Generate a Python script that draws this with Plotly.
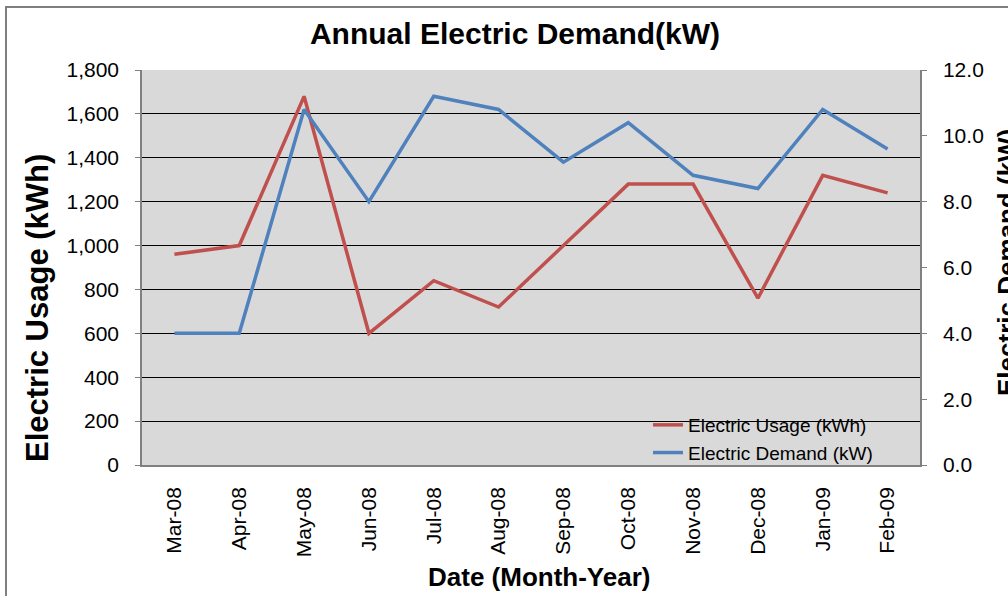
import plotly.graph_objects as go

months = ["Mar-08", "Apr-08", "May-08", "Jun-08", "Jul-08", "Aug-08",
          "Sep-08", "Oct-08", "Nov-08", "Dec-08", "Jan-09", "Feb-09"]
usage_kwh = [960, 1000, 1680, 600, 840, 720, 1000, 1280, 1280, 760, 1320, 1240]
demand_kw = [4.0, 4.0, 10.8, 8.0, 11.2, 10.8, 9.2, 10.4, 8.8, 8.4, 10.8, 9.6]
left_ticks = [0, 200, 400, 600, 800, 1000, 1200, 1400, 1600, 1800]
right_ticks = [0, 2, 4, 6, 8, 10, 12]

W, H = 1008, 596
L, R, T, B = 142, 920, 70, 465
FONT = "Arial, Liberation Sans, sans-serif"


def px(x):
    return (x - L) / (R - L)


def py(y):
    return (B - y) / (B - T)


fig = go.Figure()
fig.add_trace(go.Scatter(x=months, y=usage_kwh, mode="lines", name="Electric Usage (kWh)",
                         line=dict(color="#C0504D", width=3.5), yaxis="y"))
fig.add_trace(go.Scatter(x=months, y=demand_kw, mode="lines", name="Electric Demand (kW)",
                         line=dict(color="#4F81BD", width=3.5), yaxis="y2"))

fig.update_layout(
    width=W, height=H,
    margin=dict(l=L, r=W - R, t=T, b=H - B, autoexpand=False),
    paper_bgcolor="white", plot_bgcolor="#D9D9D9",
    font=dict(family=FONT, color="black", size=21),
    title=dict(text="<b>Annual Electric Demand(kW)</b>", x=515 / W, xref="container",
               xanchor="center", y=1 - 33 / H, yref="container", yanchor="middle",
               font=dict(size=30, family=FONT)),
    xaxis=dict(type="category", categoryorder="array", categoryarray=months,
               range=[-0.5, 11.5], tickangle=-90, ticks="", showgrid=False,
               showline=True, linecolor="#808080", linewidth=1.5,
               tickfont=dict(size=21), ticklabelstandoff=12),
    yaxis=dict(range=[0, 1800], tickvals=left_ticks, tickformat=",d",
               showgrid=True, gridcolor="black", gridwidth=1,
               showline=True, linecolor="#808080", linewidth=1.5,
               ticks="outside", ticklen=5, tickcolor="#808080",
               tickfont=dict(size=21), zeroline=False, ticklabelstandoff=12),
    yaxis2=dict(range=[0, 12], tickvals=right_ticks, tickformat=".1f",
                overlaying="y", side="right", showgrid=False,
                showline=True, linecolor="#808080", linewidth=1.5,
                ticks="outside", ticklen=5, tickcolor="#808080",
                tickfont=dict(size=21), zeroline=False, ticklabelstandoff=12),
    legend=dict(x=px(648), xanchor="left", y=py(472), yanchor="bottom",
                bgcolor="rgba(0,0,0,0)", borderwidth=0,
                font=dict(size=19), tracegroupgap=0, itemwidth=30),
    showlegend=True,
    annotations=[
        dict(text="<b>Electric Usage (kWh)</b>", xref="paper", yref="paper",
             x=px(37), y=py(308), textangle=-90, showarrow=False,
             xanchor="center", yanchor="middle", font=dict(size=31)),
        dict(text="<b>Electric Demand (kW)</b>", xref="paper", yref="paper",
             x=px(1007), y=py(263), textangle=-90, showarrow=False,
             xanchor="center", yanchor="middle", font=dict(size=26)),
        dict(text="<b>Date (Month-Year)</b>", xref="paper", yref="paper",
             x=px(539), y=py(577), showarrow=False,
             xanchor="center", yanchor="middle", font=dict(size=26)),
    ],
    shapes=[dict(type="rect", xref="paper", yref="paper",
                 x0=px(6), x1=px(1015), y0=py(605), y1=py(7),
                 line=dict(color="#7F7F7F", width=2), layer="below")],
)

fig.write_html("out.html", config={"displayModeBar": False},
               post_script="document.body.style.margin='0';")
